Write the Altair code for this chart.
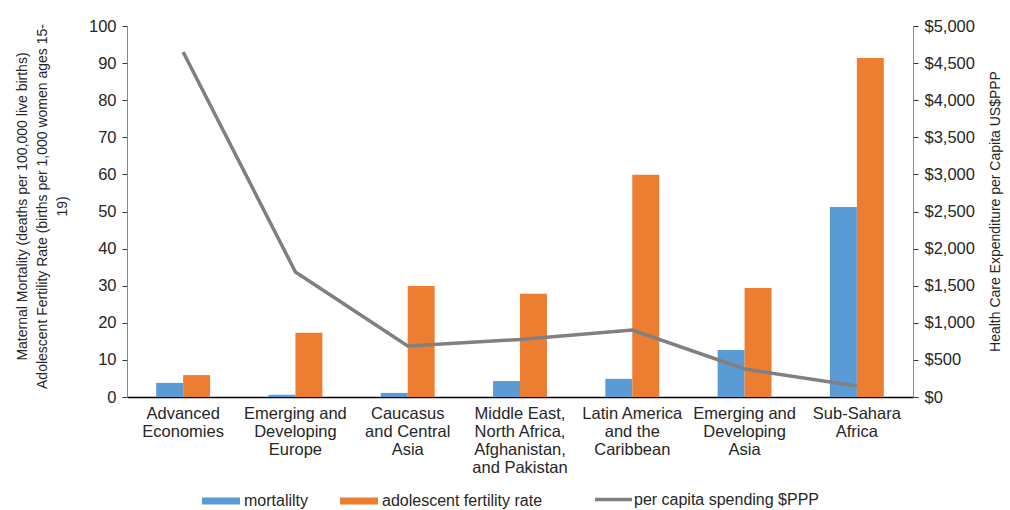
import altair as alt
import pandas as pd

regions = [
    "Advanced|Economies",
    "Emerging and|Developing|Europe",
    "Caucasus|and Central|Asia",
    "Middle East,|North Africa,|Afghanistan,|and Pakistan",
    "Latin America|and the|Caribbean",
    "Emerging and|Developing|Asia",
    "Sub-Sahara|Africa",
]
mortality = [3.8, 0.6, 1.1, 4.3, 4.9, 12.7, 51.2]
fertility = [5.9, 17.3, 29.9, 27.8, 59.9, 29.4, 91.4]
spending = [4650, 1685, 687, 775, 903, 377, 148]

series_names = ["mortalilty", "adolescent fertility rate"]
line_name = "per capita spending $PPP"

bars_df = pd.DataFrame(
    [{"region": r, "series": series_names[0], "value": v} for r, v in zip(regions, mortality)]
    + [{"region": r, "series": series_names[1], "value": v} for r, v in zip(regions, fertility)]
)
line_df = pd.DataFrame({"region": regions, "spend": spending, "name": [line_name] * len(regions)})

xscale = alt.Scale(domain=regions, paddingInner=0.52, paddingOuter=0.26)
xaxis = alt.Axis(
    title=None, labelAngle=0, labelExpr="split(datum.label, '|')", labelFontSize=16.5,
    labelLineHeight=18, labelPadding=8, ticks=False, domainColor="#000000",
    domainWidth=1.5, labelColor="#262626", labelBaseline="top",
)

bars = alt.Chart(bars_df).mark_bar().encode(
    x=alt.X("region:N", sort=regions, scale=xscale, axis=xaxis),
    xOffset=alt.XOffset("series:N", sort=series_names, scale=alt.Scale(domain=series_names)),
    y=alt.Y(
        "value:Q",
        scale=alt.Scale(domain=[0, 100], nice=False),
        axis=alt.Axis(
            values=list(range(0, 101, 10)),
            title=[
                "Maternal Mortality (deaths per 100,000 live births)",
                "Adolescent Fertility Rate (births per 1,000 women ages 15-",
                "19)",
            ],
            titleFontSize=14, titleFontWeight="normal", titleLineHeight=20,
            titleX=-105, titleY=180, titleAngle=270, titleBaseline="middle",
            titleAlign="center", titleColor="#262626",
            labelFontSize=16.5, labelColor="#262626", labelPadding=6,
            grid=False, domainColor="#888888", tickColor="#333333", tickSize=5,
        ),
    ),
    fill=alt.Fill(
        "series:N",
        sort=series_names,
        scale=alt.Scale(domain=series_names, range=["#5B9BD5", "#ED7D31"]),
        legend=alt.Legend(
            title=None, orient="none", direction="horizontal", legendX=75, legendY=456,
            symbolType="M-1,-0.18H1V0.18H-1Z", symbolSize=1444, symbolStrokeWidth=0,
            labelFontSize=16, labelColor="#262626", labelOffset=4, columnPadding=31,
            labelLimit=0, labelBaseline="middle",
        ),
    ),
)

line = alt.Chart(line_df).mark_line(strokeWidth=3.5).encode(
    x=alt.X("region:N", sort=regions, scale=xscale, axis=xaxis),
    y=alt.Y(
        "spend:Q",
        scale=alt.Scale(domain=[0, 5000], nice=False),
        axis=alt.Axis(
            orient="right", values=list(range(0, 5001, 500)), format="$,.0f",
            title="Health Care Expenditure per Capita US$PPP",
            titleFontSize=14, titleFontWeight="normal", titleColor="#262626",
            titleAngle=270, titleX=82, titleY=185, titleBaseline="middle", titleAlign="center",
            labelFontSize=16.5, labelColor="#262626", labelPadding=6,
            grid=False, domainColor="#888888", tickColor="#333333", tickSize=5,
        ),
    ),
    stroke=alt.Stroke(
        "name:N",
        scale=alt.Scale(domain=[line_name], range=["#808080"]),
        legend=alt.Legend(
            title=None, orient="none", direction="horizontal", legendX=466, legendY=453,
            symbolType="stroke", symbolSize=1369, symbolStrokeWidth=3.5,
            labelFontSize=16, labelColor="#262626", labelOffset=0, labelLimit=0,
            labelBaseline="middle",
        ),
    ),
)

chart = (
    alt.layer(bars, line)
    .resolve_scale(y="independent")
    .properties(
        width=786, height=371,
        autosize=alt.AutoSizeParams(type="none"),
        padding={"left": 127, "top": 26, "right": 97, "bottom": 113},
        background="white",
    )
    .configure(font="Liberation Sans")
    .configure_view(stroke=None)
)

chart.save("out.html", embed_options={"renderer": "svg", "actions": False})
